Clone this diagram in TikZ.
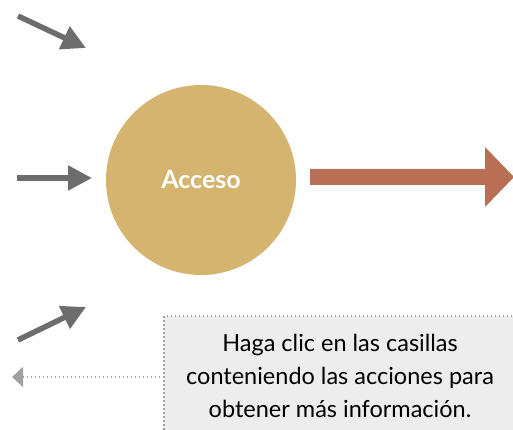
\documentclass[tikz,border=0pt]{standalone}
\usepackage{fontspec}
\setmainfont{Lato}
\usetikzlibrary{arrows.meta}
\definecolor{circ}{HTML}{D4B46F}
\definecolor{bigarr}{HTML}{B86F55}
\definecolor{grayarr}{HTML}{6D6D6D}
\definecolor{boxfill}{HTML}{EDEDED}
\definecolor{dotgray}{HTML}{A0A0A0}
\begin{document}
\begin{tikzpicture}[x=1pt,y=-1pt,
  inarrow/.style={draw=grayarr,line width=5.5pt,-{Triangle[length=24pt,width=24pt]}},
  note/.style={fill=boxfill,draw=dotgray,line width=1.5pt,dash pattern=on 1.5pt off 2.5pt},
  notetext/.style={align=center,font=\fontsize{23.5}{33}\selectfont,text=black},
  pointer/.style={draw=dotgray,line width=1.5pt,dash pattern=on 1.5pt off 2.5pt,-{Triangle[length=11pt,width=20pt,fill=dotgray]}}]
\useasboundingbox (0,0) rectangle (513,430);
\clip (0,0) rectangle (513,430);
% incoming arrows
\coordinate (a1s) at (18,16);
\coordinate (a1e) at (86,48);
\coordinate (a2s) at (17,178);
\coordinate (a2e) at (92,178);
\coordinate (a3s) at (18,340);
\coordinate (a3e) at (86,307);
\draw[inarrow] (a1s) -- (a1e);
\draw[inarrow] (a2s) -- (a2e);
\draw[inarrow] (a3s) -- (a3e);
% circle
\node[circle,fill=circ,minimum size=190pt,inner sep=0pt,text=white,font=\bfseries\fontsize{25}{30}\selectfont] (acc) at (201,180) {Acceso};
% big arrow
\fill[bigarr] (310,169) -- (485,169) -- (485,147) -- (514,177) -- (485,207) -- (485,185) -- (310,185) -- cycle;
% note box
\path[note] (164,316) rectangle (520,440);
\coordinate (nl) at (164,377);
\node[notetext] (nt) at (340,376) {Haga clic en las casillas\\conteniendo las acciones para\\obtener más información.};
\coordinate (ptr) at (12,377);
\draw[pointer] (nl) -- (ptr);
\end{tikzpicture}
\end{document}
